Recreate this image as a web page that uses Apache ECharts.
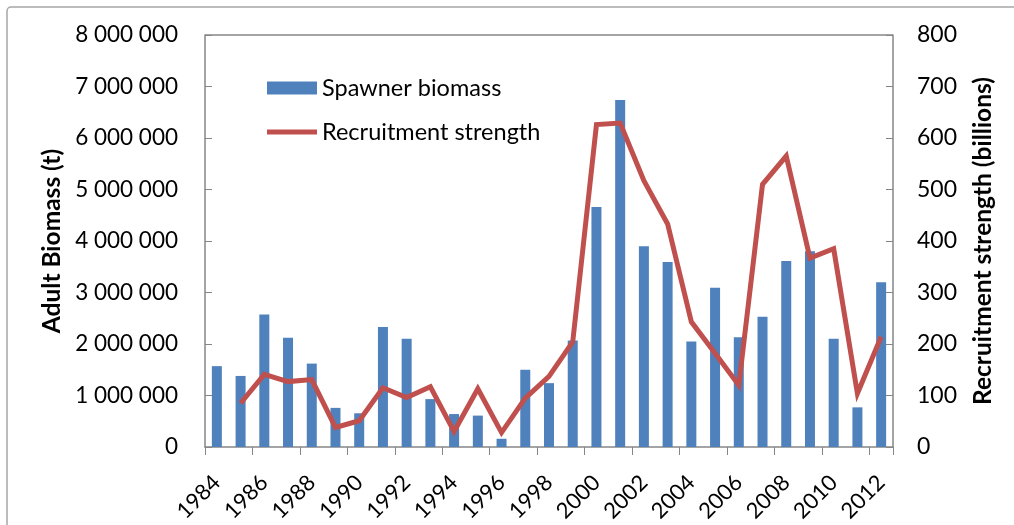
<!DOCTYPE html>
<html>
<head>
<meta charset="utf-8">
<script src="https://cdn.jsdelivr.net/npm/echarts@6/dist/echarts.min.js"></script>
<style>
  html, body { margin: 0; padding: 0; background: #fff; }
  #chart { width: 1014px; height: 525px; }
</style>
</head>
<body>
<div id="chart"></div>
<script>
// Years on the category axis
const years = ['1984','1985','1986','1987','1988','1989','1990','1991','1992','1993',
  '1994','1995','1996','1997','1998','1999','2000','2001','2002','2003',
  '2004','2005','2006','2007','2008','2009','2010','2011','2012'];

// Adult spawning stock biomass, tonnes
const spawnerBiomass = [1570000, 1380000, 2575000, 2120000, 1620000, 760000, 655000, 2330000, 2100000, 930000,
  640000, 610000, 160000, 1500000, 1240000, 2070000, 4660000, 6740000, 3900000, 3590000,
  2050000, 3090000, 2130000, 2530000, 3610000, 3800000, 2100000, 770000, 3200000];

// Recruitment strength, billions (no estimate for 1984)
const recruitment = [null, 85, 141, 127, 131, 38, 51, 115, 96, 117,
  30, 113, 28, 95, 137, 204, 626, 629, 517, 433,
  243, 182, 120, 510, 565, 367, 385, 104, 214];

// [min, max, interval] for each value axis
const leftTicks = [0, 8000000, 1000000];
const rightTicks = [0, 800, 100];

const FONT = 'Lato';
const AXIS_GREY = '#868686';
const spaced = v => String(Math.round(v)).replace(/\B(?=(\d{3})+(?!\d))/g, ' ');

const chart = echarts.init(document.getElementById('chart'));
chart.setOption({
  animation: false,
  textStyle: { fontFamily: FONT },
  grid: { left: 205, right: 121, top: 35, bottom: 76 },
  legend: {
    orient: 'vertical',
    left: 262,
    top: 71,
    itemGap: 20,
    itemWidth: 50,
    itemHeight: 13,
    textStyle: { fontFamily: FONT, fontSize: 23.5, color: '#000' },
    data: [
      { name: 'Spawner biomass', icon: 'rect' },
      { name: 'Recruitment strength', icon: 'path://M0,0 L50,0 L50,5 L0,5 Z' }
    ]
  },
  xAxis: {
    type: 'category',
    data: years,
    boundaryGap: true,
    axisLine: { lineStyle: { color: AXIS_GREY, width: 1.5 } },
    axisTick: { show: true, inside: false, length: 8, lineStyle: { color: AXIS_GREY } },
    axisLabel: { interval: 1, rotate: 45, fontSize: 22, color: '#000', margin: 32, fontFamily: FONT },
    splitLine: { show: false }
  },
  yAxis: [
    {
      type: 'value',
      min: leftTicks[0], max: leftTicks[1], interval: leftTicks[2],
      name: 'Adult Biomass (t)',
      nameLocation: 'middle',
      nameRotate: 90,
      nameGap: 139,
      nameTextStyle: { fontSize: 24.5, fontWeight: 'bold', color: '#000', fontFamily: FONT },
      axisLine: { show: true, lineStyle: { color: AXIS_GREY, width: 1.5 } },
      axisTick: { show: true, inside: true, length: 7, lineStyle: { color: AXIS_GREY } },
      axisLabel: { fontSize: 22.5, color: '#000', margin: 27, formatter: spaced, fontFamily: FONT },
      splitLine: { show: false }
    },
    {
      type: 'value',
      min: rightTicks[0], max: rightTicks[1], interval: rightTicks[2],
      name: 'Recruitment strength (billions)',
      nameLocation: 'middle',
      nameRotate: 90,
      nameGap: 78,
      nameTextStyle: { fontSize: 24.5, fontWeight: 'bold', color: '#000', fontFamily: FONT },
      axisLine: { show: true, lineStyle: { color: AXIS_GREY, width: 1.5 } },
      axisTick: { show: true, inside: true, length: 7, lineStyle: { color: AXIS_GREY } },
      axisLabel: { fontSize: 23, color: '#000', margin: 24, fontFamily: FONT },
      splitLine: { show: false }
    }
  ],
  series: [
    {
      name: 'Spawner biomass',
      type: 'bar',
      yAxisIndex: 0,
      data: spawnerBiomass,
      barWidth: 10,
      itemStyle: { color: '#4F81BD' }
    },
    {
      name: 'Recruitment strength',
      type: 'line',
      yAxisIndex: 1,
      data: recruitment,
      showSymbol: false,
      symbol: 'none',
      lineStyle: { color: '#C0504D', width: 5, join: 'miter' },
      itemStyle: { color: '#C0504D' }
    }
  ],
  graphic: [
    // top edge of the plot frame
    {
      type: 'line',
      shape: { x1: 205, y1: 35, x2: 893, y2: 35 },
      style: { stroke: AXIS_GREY, lineWidth: 1.5 }
    },
    // outer chart-area border
    {
      type: 'rect',
      shape: { x: 7, y: 7, width: 1030, height: 540, r: 4 },
      style: { fill: 'none', stroke: '#a6a6a6', lineWidth: 1.5 },
      silent: true
    }
  ]
});
</script>
</body>
</html>
